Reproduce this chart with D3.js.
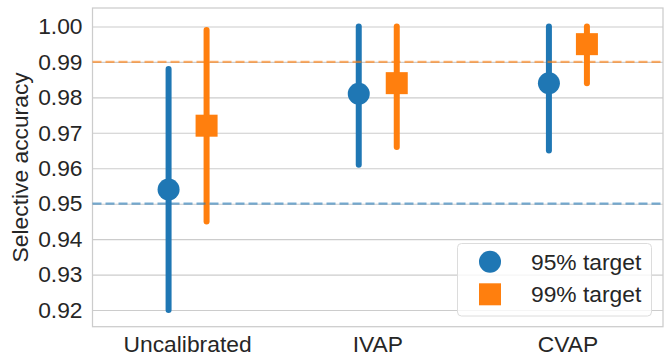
<!DOCTYPE html>
<html>
<head>
<meta charset="utf-8">
<script src="https://cdn.jsdelivr.net/npm/d3@7"></script>
<style>
  html, body { margin: 0; padding: 0; background: #fff; }
  svg { display: block; font-family: "Liberation Sans", Arial, sans-serif; }
</style>
</head>
<body>
<svg id="chart" width="668" height="356"></svg>
<script>
// ---- data ----
const categories = ["Uncalibrated", "IVAP", "CVAP"];
const seriesNames = ["95% target", "99% target"];
const mean95 = [0.954, 0.981, 0.984];
const low95  = [0.920, 0.961, 0.965];
const high95 = [0.988, 1.000, 1.000];
const mean99 = [0.972, 0.984, 0.995];
const low99  = [0.945, 0.966, 0.984];
const high99 = [0.999, 1.000, 1.000];
const targetLines = [0.95, 0.99];
const yTicks = [0.92, 0.93, 0.94, 0.95, 0.96, 0.97, 0.98, 0.99, 1.00];
const yLimits = [0.9153, 1.0052];

// ---- layout ----
const W = 668, H = 356;
const m = { left: 92.5, right: 5, top: 8, bottom: 29.3 };
const colors = ["#1f77b4", "#ff7f0e"];
const textColor = "#262626";
const gridColor = "#cccccc";
const fontSize = 22.8;

const svg = d3.select("#chart");
const x = d3.scaleBand().domain(categories).range([m.left, W - m.right]).padding(0);
const dodge = d3.scalePoint().domain(seriesNames).range([-19, 19]);
const y = d3.scaleLinear().domain(yLimits).range([H - m.bottom, m.top]);

const series = [
  { name: seriesNames[0], mean: mean95, low: low95, high: high95, color: colors[0], shape: "circle" },
  { name: seriesNames[1], mean: mean99, low: low99, high: high99, color: colors[1], shape: "square" }
];

// grid
const yAxis = d3.axisLeft(y).tickValues(yTicks).tickFormat(d3.format(".2f")).tickSize(-(W - m.left - m.right)).tickPadding(10);
const gy = svg.append("g").attr("transform", `translate(${m.left},0)`).call(yAxis);
gy.select(".domain").remove();
gy.selectAll(".tick line").attr("stroke", gridColor).attr("stroke-width", 1.1);
gy.selectAll(".tick text").attr("fill", textColor).attr("font-size", fontSize)
  .attr("font-family", "Liberation Sans, Arial, sans-serif");

const xAxis = d3.axisBottom(x).tickSize(0).tickPadding(9);
const gx = svg.append("g").attr("transform", `translate(0,${H - m.bottom})`).call(xAxis);
gx.select(".domain").remove();
gx.selectAll(".tick text").attr("fill", textColor).attr("font-size", fontSize)
  .attr("font-family", "Liberation Sans, Arial, sans-serif");

// frame
svg.append("rect")
  .attr("x", m.left).attr("y", m.top)
  .attr("width", W - m.left - m.right).attr("height", H - m.bottom - m.top)
  .attr("fill", "none").attr("stroke", gridColor).attr("stroke-width", 1.25);

// y label
svg.append("text")
  .attr("transform", `translate(28,${(m.top + H - m.bottom) / 2}) rotate(-90)`)
  .attr("text-anchor", "middle")
  .attr("fill", textColor).attr("font-size", fontSize)
  .text("Selective accuracy");

// marks
series.forEach(s => {
  const g = svg.append("g");
  categories.forEach((c, i) => {
    const cx = x(c) + x.bandwidth() / 2 + dodge(s.name);
    g.append("line")
      .attr("x1", cx).attr("x2", cx)
      .attr("y1", y(s.low[i])).attr("y2", y(s.high[i]))
      .attr("stroke", s.color).attr("stroke-width", 6).attr("stroke-linecap", "round");
    if (s.shape === "circle") {
      g.append("circle").attr("cx", cx).attr("cy", y(s.mean[i])).attr("r", 11).attr("fill", s.color);
    } else {
      g.append("rect").attr("x", cx - 11).attr("y", y(s.mean[i]) - 11)
        .attr("width", 22).attr("height", 22).attr("fill", s.color);
    }
  });
});

// target lines
targetLines.forEach((t, i) => {
  svg.append("line")
    .attr("x1", m.left).attr("x2", W - m.right)
    .attr("y1", y(t)).attr("y2", y(t))
    .attr("stroke", colors[i]).attr("stroke-opacity", 0.6)
    .attr("stroke-width", 2.2).attr("stroke-dasharray", "9,4");
});

// legend
const lg = svg.append("g");
lg.append("rect")
  .attr("x", 457.5).attr("y", 243.5).attr("width", 194).attr("height", 72.5)
  .attr("rx", 4).attr("fill", "#fff").attr("fill-opacity", 0.8)
  .attr("stroke", "#dcdcdc").attr("stroke-width", 1);
series.forEach((s, i) => {
  const cy = 261.7 + i * 32.6;
  if (s.shape === "circle") {
    lg.append("circle").attr("cx", 490).attr("cy", cy).attr("r", 11).attr("fill", s.color);
  } else {
    lg.append("rect").attr("x", 479).attr("y", cy - 11).attr("width", 22).attr("height", 22).attr("fill", s.color);
  }
  lg.append("text").attr("x", 531).attr("y", cy + 8)
    .attr("fill", textColor).attr("font-size", fontSize).text(s.name);
});
</script>
</body>
</html>
